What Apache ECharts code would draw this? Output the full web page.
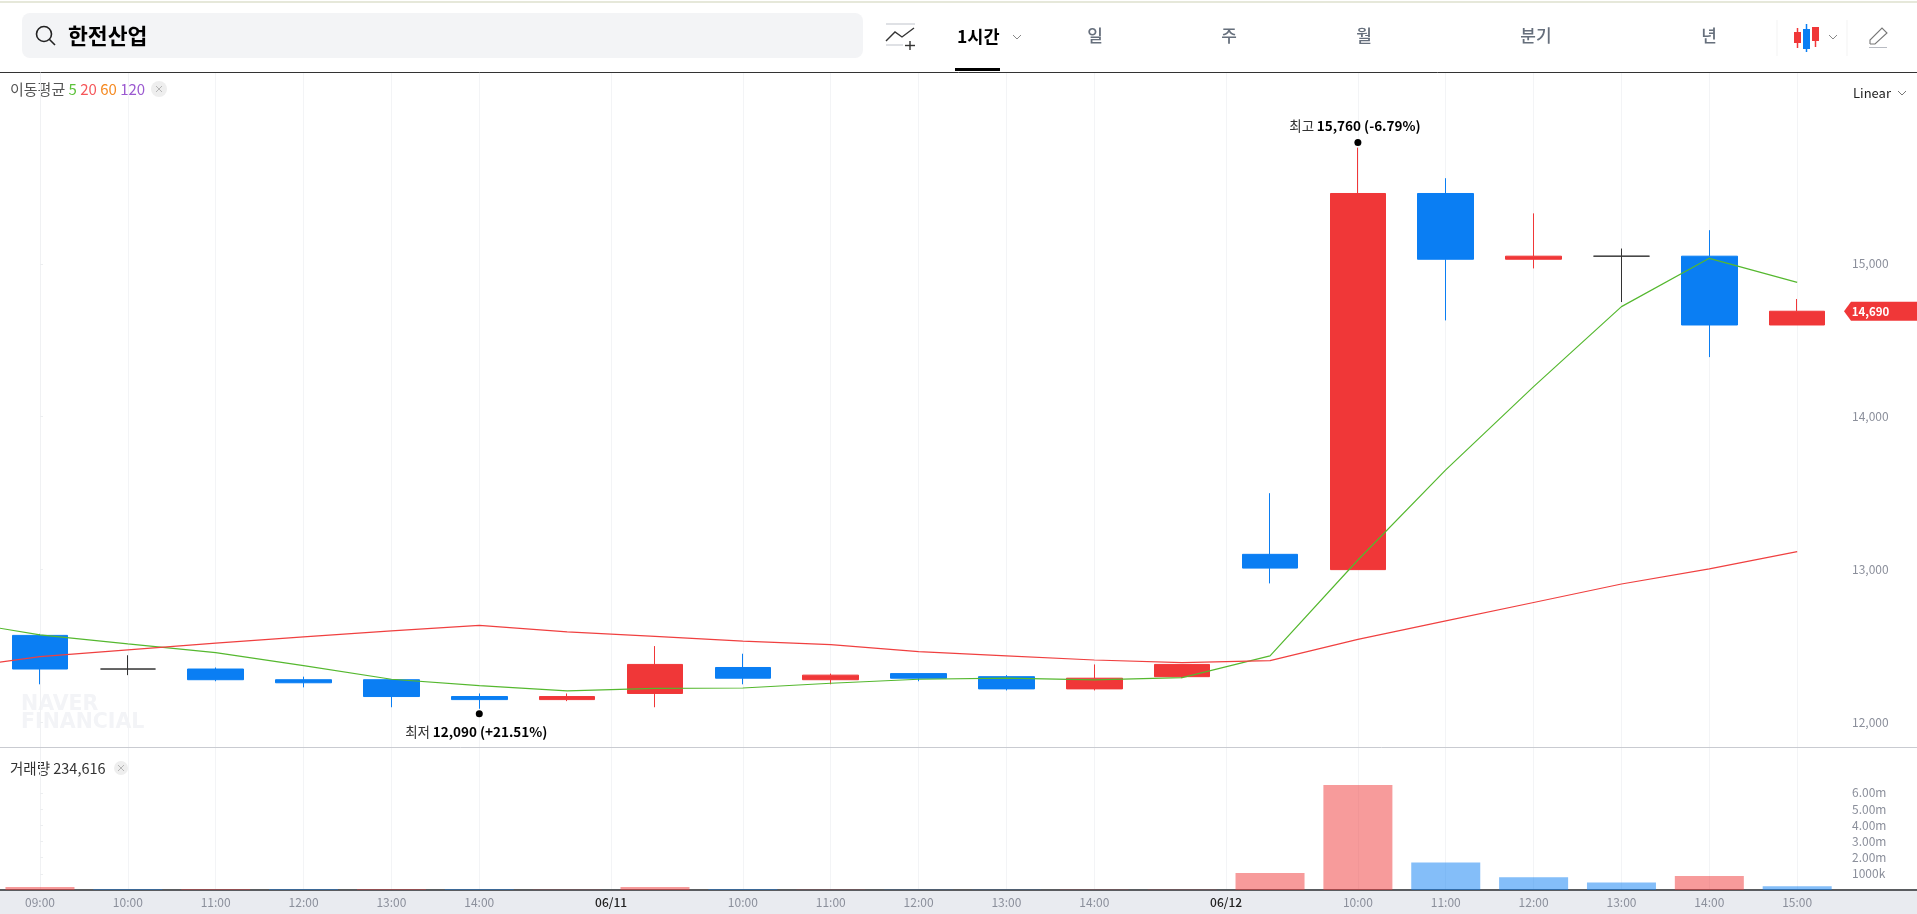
<!DOCTYPE html>
<html>
<head>
<meta charset="utf-8">
<title>한전산업</title>
<script src="https://cdn.jsdelivr.net/npm/echarts@6/dist/echarts.min.js"></script>
<style>
  html, body { margin: 0; padding: 0; background: #fff; }
  #chart { width: 100%; height: 100vh; }
</style>
</head>
<body>
<div id="chart"></div>
<script>
var opens  = [12570, 12350, 12350, 12280, 12280, 12170, 12150, 12190, 12360, 12280, 12320, 12300, 12220, 12300, 13100, 13000, 15460, 15030, 15050, 15050, 14600];
var closes = [12350, 12350, 12280, 12260, 12170, 12150, 12170, 12380, 12290, 12310, 12290, 12220, 12290, 12380, 13010, 15460, 15030, 15050, 15050, 14600, 14690];
var lows   = [12250, 12310, 12270, 12230, 12100, 12090, 12140, 12100, 12250, 12250, 12270, 12210, 12210, 12290, 12910, 13000, 14630, 14970, 14750, 14390, 14600];
var highs  = [12580, 12440, 12360, 12300, 12280, 12190, 12190, 12500, 12450, 12320, 12320, 12310, 12380, 12380, 13500, 15760, 15560, 15330, 15100, 15220, 14770];

// first value of each average is the point just left of the first candle
var maFive   = [12669, 12573, 12514, 12457, 12372, 12283, 12241, 12207, 12224, 12226, 12257, 12283, 12290, 12279, 12294, 12436, 13063, 13652, 14197, 14720, 15036, 14879];
var maTwenty = [12351, 12431, 12475, 12519, 12560, 12599, 12636, 12593, 12564, 12532, 12509, 12464, 12436, 12409, 12392, 12405, 12544, 12665, 12785, 12906, 13005, 13118];

var volumes  = [180000, 50000, 50000, 50000, 50000, 50000, 20000, 180000, 50000, 20000, 20000, 20000, 20000, 20000, 1050000, 6480000, 1700000, 780000, 470000, 860000, 234616];
var volumeUp = [1, 0, 1, 0, 1, 0, 1, 1, 0, 1, 0, 0, 1, 1, 1, 1, 0, 0, 0, 1, 0];

var tickSlots  = [0, 1, 2, 3, 4, 5, 6.5, 8, 9, 10, 11, 12, 13.5, 15, 16, 17, 18, 19, 20];
var tickLabels = ['09:00', '10:00', '11:00', '12:00', '13:00', '14:00', '{d|06/11}', '10:00', '11:00', '12:00', '13:00', '14:00', '{d|06/12}', '10:00', '11:00', '12:00', '13:00', '14:00', '15:00'];

var priceTicks  = [12000, 13000, 14000, 15000];
var volumeTicks = [1000000, 2000000, 3000000, 4000000, 5000000, 6000000];
var volumeTickLabels = ['1000k', '2.00m', '3.00m', '4.00m', '5.00m', '6.00m'];

var lastPrice = 14690;
var highIndex = 15, lowIndex = 5;

var FONT = '"Noto Sans CJK KR", "Noto Sans", sans-serif';
var RED = '#f03738', BLUE = '#0a7ef3';
var LABEL_GREY = '#8b8f9b';
var X_MIN = -0.455, X_MAX = 20.51;

function makeXAxis(gridIndex, showLabels, lineColor, lineWidth) {
  return {
    type: 'value',
    gridIndex: gridIndex,
    min: X_MIN,
    max: X_MAX,
    axisLine: { show: true, onZero: false, lineStyle: { color: lineColor, width: lineWidth } },
    axisTick: { show: false, customValues: tickSlots },
    splitLine: { show: true, lineStyle: { color: '#f3f4f6', width: 1 } },
    axisLabel: {
      show: showLabels,
      customValues: tickSlots,
      hideOverlap: false,
      margin: 6,
      fontFamily: FONT,
      fontSize: 12,
      color: LABEL_GREY,
      formatter: function (v) { return tickLabels[tickSlots.indexOf(v)]; },
      rich: { d: { fontFamily: FONT, fontSize: 12, color: '#222', fontWeight: 500 } }
    }
  };
}

function makeYAxis(gridIndex, min, max, ticks, labelFn) {
  return {
    type: 'value',
    gridIndex: gridIndex,
    position: 'right',
    min: min,
    max: max,
    splitLine: { show: false },
    axisLine: { show: true, lineStyle: { color: '#f0f1f3' } },
    axisTick: { show: true, length: 3, customValues: ticks, lineStyle: { color: '#eceef0' } },
    axisLabel: {
      customValues: ticks,
      margin: 10,
      fontFamily: FONT,
      fontSize: 12,
      color: LABEL_GREY,
      formatter: labelFn
    }
  };
}

function text(x, y, str, size, color, weight, align, family) {
  return {
    type: 'text', x: x, y: y,
    style: { text: str, font: (weight || 400) + ' ' + size + 'px ' + (family || FONT), fill: color, align: align || 'left', verticalAlign: 'middle' }
  };
}
function line(x1, y1, x2, y2, color, width) {
  return { type: 'line', shape: { x1: x1, y1: y1, x2: x2, y2: y2 }, style: { stroke: color, lineWidth: width || 1 } };
}
function rect(x, y, w, h, fill, r) {
  return { type: 'rect', shape: { x: x, y: y, width: w, height: h, r: r || 0 }, style: { fill: fill } };
}
function chevron(x, y, color) {
  return { type: 'polyline', shape: { points: [[x - 4, y - 2], [x, y + 2], [x + 4, y - 2]] }, style: { stroke: color, fill: null, lineWidth: 1 } };
}
function closeBadge(x, y, r) {
  return [
    { type: 'circle', shape: { cx: x, cy: y, r: r }, style: { fill: '#eeeeee' } },
    line(x - 3, y - 3, x + 3, y + 3, '#b5b5b5'),
    line(x + 3, y - 3, x - 3, y + 3, '#b5b5b5')
  ];
}

var toolbar = [
  rect(0, 1, 1917, 2, '#e6e8da'),
  rect(22, 13, 841, 45, '#f3f4f6', 8),
  { type: 'circle', shape: { cx: 44, cy: 34, r: 7.5 }, style: { fill: null, stroke: '#222', lineWidth: 1.6 } },
  line(49.5, 39.5, 55, 45, '#222', 1.6),
  text(68, 36, '한전산업', 21.6, '#000', 700),
  // trend icon
  line(886, 24, 915, 24, '#d5d7dc', 1.5),
  line(886, 45, 903, 45, '#d5d7dc', 1.5),
  { type: 'polyline', shape: { points: [[886, 41], [895, 32], [902, 37], [914, 28]] }, style: { stroke: '#333', fill: null, lineWidth: 1.4 } },
  line(905, 45.5, 915, 45.5, '#333', 1.4),
  line(910, 41, 910, 50, '#333', 1.4),
  text(957, 36, '1시간', 17.5, '#000', 700),
  chevron(1017, 37, '#888'),
  rect(955, 68, 45, 3, '#000'),
  text(1095, 36, '일', 17, '#666f7c', 500, 'center'),
  text(1229, 36, '주', 17, '#666f7c', 500, 'center'),
  text(1364, 36, '월', 17, '#666f7c', 500, 'center'),
  text(1536, 36, '분기', 17, '#666f7c', 500, 'center'),
  text(1709, 36, '년', 17, '#666f7c', 500, 'center'),
  line(1777, 20, 1777, 56, '#f3f3f3'),
  line(1847, 20, 1847, 56, '#f3f3f3'),
  // candle icon
  line(1797.5, 28, 1797.5, 48, RED, 1.5),
  rect(1794, 32, 7, 11, RED),
  line(1806.5, 24, 1806.5, 52, BLUE, 1.5),
  rect(1803, 29, 7, 20, BLUE),
  line(1815.5, 27, 1815.5, 47, RED, 1.5),
  rect(1812, 27, 7, 14, RED),
  chevron(1833, 37, '#888'),
  // pencil icon
  { type: 'polyline', shape: { points: [[1870, 44], [1870, 40], [1882, 28], [1887, 33], [1875, 44], [1870, 44]] }, style: { stroke: '#777', fill: null, lineWidth: 1.1 } },
  line(1869, 47.5, 1887, 47.5, '#b8bbc2', 1),
  line(0, 72.5, 1917, 72.5, '#333')
];

var overlays = [
  {
    type: 'text', x: 10, y: 89,
    style: {
      text: '{a|이동평균} {g|5} {r|20} {o|60} {p|120}',
      verticalAlign: 'middle',
      rich: {
        a: { font: '400 15px ' + FONT, fill: '#555' },
        g: { font: '400 15px ' + FONT, fill: '#5cc23a' },
        r: { font: '400 15px ' + FONT, fill: '#f5575a' },
        o: { font: '400 15px ' + FONT, fill: '#f58a22' },
        p: { font: '400 15px ' + FONT, fill: '#9b59d0' }
      }
    }
  },
  text(1853, 93, 'Linear', 13, '#222'),
  chevron(1902, 93, '#777'),
  text(10, 768, '거래량 234,616', 14.5, '#333'),
  // watermark
  text(21, 705, 'NAVER', 20.5, '#f3f4f7', 700, 'left', '"DejaVu Sans", sans-serif'),
  text(21, 723, 'FINANCIAL', 20.5, '#f3f4f7', 700, 'left', '"DejaVu Sans", sans-serif'),
  // pane rules run on under the price scale
  line(1842, 747.5, 1917, 747.5, '#c9cbd1'),
  rect(0, 891, 1917, 23, '#e9ebf0'),
  line(1842, 890, 1917, 890, '#5a5c60', 2)
].concat(closeBadge(159, 89, 8), closeBadge(121, 768, 7));

var myChart = echarts.init(document.getElementById('chart'));
var option = {
  animation: false,
  backgroundColor: '#fff',
  textStyle: { fontFamily: FONT },
  grid: [
    { left: 0, right: 75, top: 73, height: 674 },
    { left: 0, right: 75, top: 747, height: 143 }
  ],
  xAxis: [
    makeXAxis(0, false, '#c9cbd1', 1),
    makeXAxis(1, true, '#5a5c60', 2)
  ],
  yAxis: [
    makeYAxis(0, 11840, 16248, priceTicks, function (v) { return echarts.format.addCommas(v); }),
    makeYAxis(1, 0, 8830000, volumeTicks, function (v) { return volumeTickLabels[volumeTicks.indexOf(v)]; })
  ],
  graphic: { elements: toolbar.concat(overlays) },
  series: [
    {
      name: 'price',
      type: 'candlestick',
      xAxisIndex: 0,
      yAxisIndex: 0,
      barWidth: 56,
      encode: { x: 0, y: [1, 2, 3, 4] },
      data: opens.map(function (o, i) { return [i, o, closes[i], lows[i], highs[i]]; }),
      itemStyle: {
        color: RED,
        color0: BLUE,
        borderColor: RED,
        borderColor0: BLUE,
        borderColorDoji: '#333333',
        borderWidth: 1
      },
      markPoint: {
        animation: false,
        data: [
          {
            coord: [highIndex, highs[highIndex]],
            symbol: 'circle',
            symbolSize: 7,
            symbolOffset: [0, -5],
            itemStyle: { color: '#000' },
            label: {
              show: true,
              position: 'top',
              distance: 6,
              offset: [-3, 0],
              formatter: '{n|최고} {b|15,760 (-6.79%)}',
              rich: {
                n: { fontFamily: FONT, fontSize: 13.5, color: '#333' },
                b: { fontFamily: FONT, fontSize: 13.5, color: '#000', fontWeight: 700 }
              }
            }
          },
          {
            coord: [lowIndex, lows[lowIndex]],
            symbol: 'circle',
            symbolSize: 7,
            symbolOffset: [0, 5],
            itemStyle: { color: '#000' },
            label: {
              show: true,
              position: 'bottom',
              distance: 8,
              offset: [-3, 0],
              formatter: '{n|최저} {b|12,090 (+21.51%)}',
              rich: {
                n: { fontFamily: FONT, fontSize: 13.5, color: '#333' },
                b: { fontFamily: FONT, fontSize: 13.5, color: '#000', fontWeight: 700 }
              }
            }
          },
          {
            // last price tag
            coord: [X_MAX, lastPrice],
            symbol: 'path://M0,9.5 L7,0 L73,0 L73,19 L7,19 Z',
            symbolSize: [73, 19],
            symbolOffset: [38.5, 0],
            itemStyle: { color: RED },
            label: {
              show: true,
              position: 'inside',
              offset: [-10, 0],
              formatter: echarts.format.addCommas(lastPrice),
              fontFamily: FONT,
              fontSize: 11.5,
              fontWeight: 700,
              color: '#fff'
            }
          }
        ]
      }
    },
    {
      name: 'MA5',
      type: 'line',
      xAxisIndex: 0,
      yAxisIndex: 0,
      showSymbol: false,
      symbol: 'none',
      lineStyle: { color: '#55b82f', width: 1.2 },
      data: maFive.map(function (v, i) { return [i - 1, v]; })
    },
    {
      name: 'MA20',
      type: 'line',
      xAxisIndex: 0,
      yAxisIndex: 0,
      showSymbol: false,
      symbol: 'none',
      lineStyle: { color: '#f04040', width: 1.2 },
      data: maTwenty.map(function (v, i) { return [i - 1, v]; })
    },
    {
      name: 'volume',
      type: 'bar',
      xAxisIndex: 1,
      yAxisIndex: 1,
      barWidth: 69,
      data: volumes.map(function (v, i) {
        return { value: [i, v], itemStyle: { color: volumeUp[i] ? RED : BLUE, opacity: 0.5 } };
      })
    }
  ]
};
myChart.setOption(option);
</script>
</body>
</html>
